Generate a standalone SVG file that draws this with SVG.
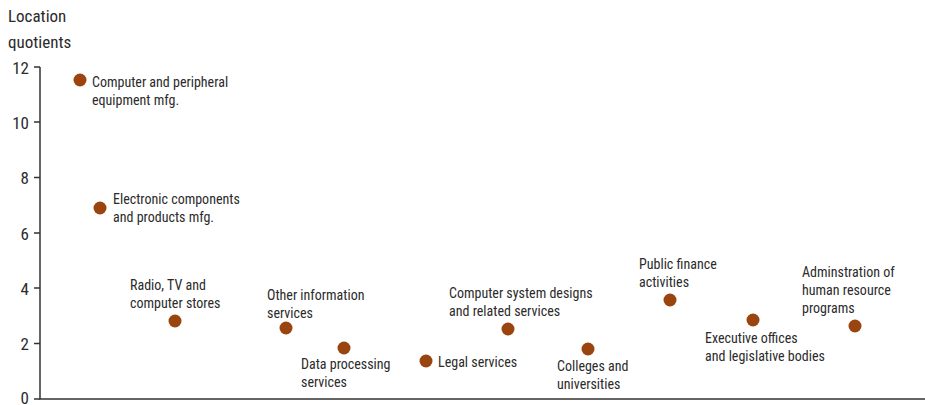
<svg xmlns="http://www.w3.org/2000/svg" width="925" height="405" viewBox="0 0 925 405">
<style>
text{font-family:"Liberation Sans Narrow","Roboto Condensed","Liberation Sans",sans-serif;fill:#2b2b2b}
.lab{font-size:14px}
.ax{font-size:17px}
.tick{font-size:17px;text-anchor:end}
.dot{fill:#9a4510}
.axis{stroke:#333;stroke-width:1.5;fill:none}
</style>
<rect width="925" height="405" fill="#fff"/>
<g id="axes">
<text class="ax" x="8" y="22">Location</text>
<text class="ax" x="8" y="48">quotients</text>
<path class="axis" d="M40,67V399H925"/>
<path class="axis" d="M34,67H40M34,122H40M34,177.5H40M34,233H40M34,288H40M34,343.5H40M34,399H40"/>
<text class="tick" x="29" y="74">12</text>
<text class="tick" x="29" y="129">10</text>
<text class="tick" x="29" y="184">8</text>
<text class="tick" x="29" y="240">6</text>
<text class="tick" x="29" y="295">4</text>
<text class="tick" x="29" y="350">2</text>
<text class="tick" x="29" y="404">0</text>
</g>
<g id="p1"><circle class="dot" cx="80" cy="80" r="6.5"/><text class="lab" x="92" y="87">Computer and peripheral</text><text class="lab" x="92" y="105">equipment mfg.</text></g>
<g id="p2"><circle class="dot" cx="100" cy="208" r="6.5"/><text class="lab" x="113" y="204">Electronic components</text><text class="lab" x="113" y="222">and products mfg.</text></g>
<g id="p3"><circle class="dot" cx="175" cy="321" r="6.5"/><text class="lab" x="130" y="290">Radio, TV and</text><text class="lab" x="130" y="308">computer stores</text></g>
<g id="p4"><circle class="dot" cx="286" cy="328" r="6.5"/><text class="lab" x="267" y="300">Other information</text><text class="lab" x="267" y="318">services</text></g>
<g id="p5"><circle class="dot" cx="344" cy="348" r="6.5"/><text class="lab" x="301" y="369">Data processing</text><text class="lab" x="301" y="387">services</text></g>
<g id="p6"><circle class="dot" cx="426" cy="361" r="6.5"/><text class="lab" x="438" y="367">Legal services</text></g>
<g id="p7"><circle class="dot" cx="508" cy="329" r="6.5"/><text class="lab" x="449" y="298">Computer system designs</text><text class="lab" x="449" y="316">and related services</text></g>
<g id="p8"><circle class="dot" cx="588" cy="349" r="6.5"/><text class="lab" x="557" y="371">Colleges and</text><text class="lab" x="557" y="389">universities</text></g>
<g id="p9"><circle class="dot" cx="670" cy="300" r="6.5"/><text class="lab" x="639" y="269">Public finance</text><text class="lab" x="639" y="287">activities</text></g>
<g id="p10"><circle class="dot" cx="753" cy="320" r="6.5"/><text class="lab" x="705" y="343">Executive offices</text><text class="lab" x="705" y="361">and legislative bodies</text></g>
<g id="p11"><circle class="dot" cx="855" cy="326" r="6.5"/><text class="lab" x="802" y="277">Adminstration of</text><text class="lab" x="802" y="295">human resource</text><text class="lab" x="802" y="313">programs</text></g>
</svg>
